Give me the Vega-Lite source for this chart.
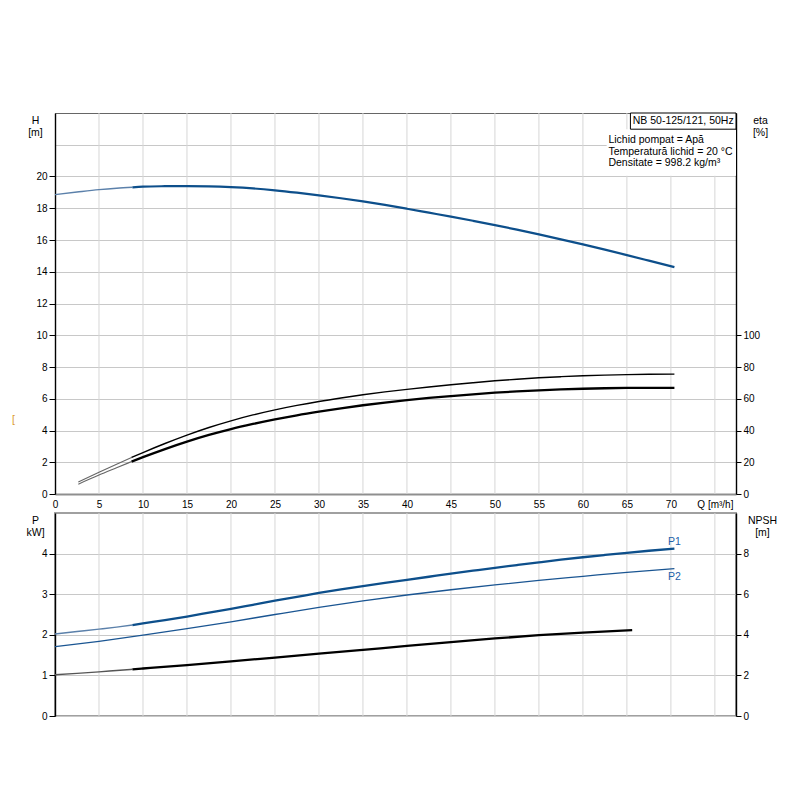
{
  "$schema": "https://vega.github.io/schema/vega-lite/v6.json",
  "background": "white",
  "padding": {"left": 11, "top": 112, "right": 5, "bottom": 5},
  "spacing": 19,
  "bounds": "flush",
  "config": {
    "font": "Liberation Sans",
    "axis": {
      "labelFont": "Liberation Sans",
      "labelFontSize": 10,
      "labelColor": "#000",
      "titleFont": "Liberation Sans",
      "titleFontSize": 10.5,
      "titleFontWeight": "normal",
      "titleColor": "#000",
      "labelFlush": false,
      "labelOverlap": false,
      "tickColor": "#000",
      "domainColor": "#000"
    }
  },
  "datasets": {
    "qgrid": [
      {"q": 5}, {"q": 10}, {"q": 15}, {"q": 20}, {"q": 25}, {"q": 30}, {"q": 35}, {"q": 40},
      {"q": 45}, {"q": 50}, {"q": 55}, {"q": 60}, {"q": 65}, {"q": 70}, {"q": 75}
    ],
    "top": [
      {"curve": "H", "part": "a", "q": 0, "v": 18.86},
      {"curve": "H", "part": "a", "q": 2.5, "v": 19.02},
      {"curve": "H", "part": "a", "q": 5, "v": 19.17},
      {"curve": "H", "part": "a", "q": 7, "v": 19.26},
      {"curve": "H", "part": "a", "q": 8.8, "v": 19.32},
      {"curve": "H", "part": "b", "q": 8.8, "v": 19.32},
      {"curve": "H", "part": "b", "q": 10, "v": 19.36},
      {"curve": "H", "part": "b", "q": 12.5, "v": 19.39},
      {"curve": "H", "part": "b", "q": 15, "v": 19.4},
      {"curve": "H", "part": "b", "q": 17.5, "v": 19.38},
      {"curve": "H", "part": "b", "q": 20, "v": 19.33},
      {"curve": "H", "part": "b", "q": 22.5, "v": 19.25},
      {"curve": "H", "part": "b", "q": 25, "v": 19.13},
      {"curve": "H", "part": "b", "q": 27.5, "v": 18.98},
      {"curve": "H", "part": "b", "q": 30, "v": 18.81},
      {"curve": "H", "part": "b", "q": 32.5, "v": 18.63},
      {"curve": "H", "part": "b", "q": 35, "v": 18.43},
      {"curve": "H", "part": "b", "q": 37.5, "v": 18.21},
      {"curve": "H", "part": "b", "q": 40, "v": 17.97},
      {"curve": "H", "part": "b", "q": 42.5, "v": 17.72},
      {"curve": "H", "part": "b", "q": 45, "v": 17.47},
      {"curve": "H", "part": "b", "q": 47.5, "v": 17.21},
      {"curve": "H", "part": "b", "q": 50, "v": 16.94},
      {"curve": "H", "part": "b", "q": 52.5, "v": 16.65},
      {"curve": "H", "part": "b", "q": 55, "v": 16.35},
      {"curve": "H", "part": "b", "q": 57.5, "v": 16.04},
      {"curve": "H", "part": "b", "q": 60, "v": 15.72},
      {"curve": "H", "part": "b", "q": 62.5, "v": 15.39},
      {"curve": "H", "part": "b", "q": 65, "v": 15.05},
      {"curve": "H", "part": "b", "q": 67.5, "v": 14.7},
      {"curve": "H", "part": "b", "q": 70.4, "v": 14.29},
      {"curve": "E1", "part": "a", "q": 2.65, "v": 7.5},
      {"curve": "E1", "part": "a", "q": 5, "v": 13.7},
      {"curve": "E1", "part": "a", "q": 7, "v": 18.8},
      {"curve": "E1", "part": "a", "q": 8.7, "v": 23.0},
      {"curve": "E1", "part": "b", "q": 8.7, "v": 23.0},
      {"curve": "E1", "part": "b", "q": 10, "v": 26.1},
      {"curve": "E1", "part": "b", "q": 12.5, "v": 31.8},
      {"curve": "E1", "part": "b", "q": 15, "v": 37.1},
      {"curve": "E1", "part": "b", "q": 17.5, "v": 41.9},
      {"curve": "E1", "part": "b", "q": 20, "v": 46.1},
      {"curve": "E1", "part": "b", "q": 22.5, "v": 49.8},
      {"curve": "E1", "part": "b", "q": 25, "v": 53.0},
      {"curve": "E1", "part": "b", "q": 27.5, "v": 55.8},
      {"curve": "E1", "part": "b", "q": 30, "v": 58.3},
      {"curve": "E1", "part": "b", "q": 32.5, "v": 60.5},
      {"curve": "E1", "part": "b", "q": 35, "v": 62.5},
      {"curve": "E1", "part": "b", "q": 37.5, "v": 64.3},
      {"curve": "E1", "part": "b", "q": 40, "v": 65.9},
      {"curve": "E1", "part": "b", "q": 42.5, "v": 67.4},
      {"curve": "E1", "part": "b", "q": 45, "v": 68.8},
      {"curve": "E1", "part": "b", "q": 47.5, "v": 70.1},
      {"curve": "E1", "part": "b", "q": 50, "v": 71.3},
      {"curve": "E1", "part": "b", "q": 52.5, "v": 72.3},
      {"curve": "E1", "part": "b", "q": 55, "v": 73.2},
      {"curve": "E1", "part": "b", "q": 57.5, "v": 73.9},
      {"curve": "E1", "part": "b", "q": 60, "v": 74.5},
      {"curve": "E1", "part": "b", "q": 62.5, "v": 74.9},
      {"curve": "E1", "part": "b", "q": 65, "v": 75.2},
      {"curve": "E1", "part": "b", "q": 67.5, "v": 75.4},
      {"curve": "E1", "part": "b", "q": 70.4, "v": 75.5},
      {"curve": "E2", "part": "a", "q": 2.65, "v": 6.2},
      {"curve": "E2", "part": "a", "q": 5, "v": 11.9},
      {"curve": "E2", "part": "a", "q": 7, "v": 16.5},
      {"curve": "E2", "part": "a", "q": 8.7, "v": 20.4},
      {"curve": "E2", "part": "b", "q": 8.7, "v": 20.4},
      {"curve": "E2", "part": "b", "q": 10, "v": 23.2},
      {"curve": "E2", "part": "b", "q": 12.5, "v": 28.3},
      {"curve": "E2", "part": "b", "q": 15, "v": 33.0},
      {"curve": "E2", "part": "b", "q": 17.5, "v": 37.2},
      {"curve": "E2", "part": "b", "q": 20, "v": 40.9},
      {"curve": "E2", "part": "b", "q": 22.5, "v": 44.1},
      {"curve": "E2", "part": "b", "q": 25, "v": 47.0},
      {"curve": "E2", "part": "b", "q": 27.5, "v": 49.6},
      {"curve": "E2", "part": "b", "q": 30, "v": 51.9},
      {"curve": "E2", "part": "b", "q": 32.5, "v": 54.0},
      {"curve": "E2", "part": "b", "q": 35, "v": 55.9},
      {"curve": "E2", "part": "b", "q": 37.5, "v": 57.6},
      {"curve": "E2", "part": "b", "q": 40, "v": 59.1},
      {"curve": "E2", "part": "b", "q": 42.5, "v": 60.5},
      {"curve": "E2", "part": "b", "q": 45, "v": 61.7},
      {"curve": "E2", "part": "b", "q": 47.5, "v": 62.8},
      {"curve": "E2", "part": "b", "q": 50, "v": 63.8},
      {"curve": "E2", "part": "b", "q": 52.5, "v": 64.6},
      {"curve": "E2", "part": "b", "q": 55, "v": 65.3},
      {"curve": "E2", "part": "b", "q": 57.5, "v": 65.9},
      {"curve": "E2", "part": "b", "q": 60, "v": 66.3},
      {"curve": "E2", "part": "b", "q": 62.5, "v": 66.6},
      {"curve": "E2", "part": "b", "q": 65, "v": 66.8},
      {"curve": "E2", "part": "b", "q": 67.5, "v": 66.9},
      {"curve": "E2", "part": "b", "q": 70.4, "v": 66.9}
    ],
    "note": [
      {"kind": "bg", "q": 62.7, "q2": 77.4, "v": 20.05, "v2": 22.98},
      {"kind": "box", "q": 65.4, "q2": 77.4, "v": 22.98, "v2": 24},
      {"kind": "name", "q": 71.4, "v": 23.49, "txt": "NB 50-125/121, 50Hz"},
      {"kind": "info", "q": 62.9, "v": 22.31, "txt": "Lichid pompat = Apă"},
      {"kind": "info", "q": 62.9, "v": 21.55, "txt": "Temperatură lichid = 20 °C"},
      {"kind": "info", "q": 62.9, "v": 20.82, "txt": "Densitate = 998.2 kg/m³"},
      {"kind": "stray", "q": -4.9, "v": 4.66, "txt": "["}
    ],
    "bot": [
      {"curve": "P1", "part": "a", "q": 0, "v": 2.02},
      {"curve": "P1", "part": "a", "q": 2.5, "v": 2.08},
      {"curve": "P1", "part": "a", "q": 5, "v": 2.14},
      {"curve": "P1", "part": "a", "q": 7, "v": 2.19},
      {"curve": "P1", "part": "a", "q": 8.8, "v": 2.24},
      {"curve": "P1", "part": "b", "q": 8.8, "v": 2.24},
      {"curve": "P1", "part": "b", "q": 10, "v": 2.28},
      {"curve": "P1", "part": "b", "q": 12.5, "v": 2.36},
      {"curve": "P1", "part": "b", "q": 15, "v": 2.45},
      {"curve": "P1", "part": "b", "q": 17.5, "v": 2.545},
      {"curve": "P1", "part": "b", "q": 20, "v": 2.64},
      {"curve": "P1", "part": "b", "q": 22.5, "v": 2.74},
      {"curve": "P1", "part": "b", "q": 25, "v": 2.84},
      {"curve": "P1", "part": "b", "q": 27.5, "v": 2.935},
      {"curve": "P1", "part": "b", "q": 30, "v": 3.03},
      {"curve": "P1", "part": "b", "q": 32.5, "v": 3.117},
      {"curve": "P1", "part": "b", "q": 35, "v": 3.2},
      {"curve": "P1", "part": "b", "q": 37.5, "v": 3.28},
      {"curve": "P1", "part": "b", "q": 40, "v": 3.355},
      {"curve": "P1", "part": "b", "q": 42.5, "v": 3.43},
      {"curve": "P1", "part": "b", "q": 45, "v": 3.505},
      {"curve": "P1", "part": "b", "q": 47.5, "v": 3.578},
      {"curve": "P1", "part": "b", "q": 50, "v": 3.65},
      {"curve": "P1", "part": "b", "q": 52.5, "v": 3.718},
      {"curve": "P1", "part": "b", "q": 55, "v": 3.785},
      {"curve": "P1", "part": "b", "q": 57.5, "v": 3.85},
      {"curve": "P1", "part": "b", "q": 60, "v": 3.91},
      {"curve": "P1", "part": "b", "q": 62.5, "v": 3.966},
      {"curve": "P1", "part": "b", "q": 65, "v": 4.02},
      {"curve": "P1", "part": "b", "q": 67.5, "v": 4.07},
      {"curve": "P1", "part": "b", "q": 70.4, "v": 4.125},
      {"curve": "P2", "part": "b", "q": 0, "v": 1.71},
      {"curve": "P2", "part": "b", "q": 5, "v": 1.84},
      {"curve": "P2", "part": "b", "q": 10, "v": 1.99},
      {"curve": "P2", "part": "b", "q": 15, "v": 2.15},
      {"curve": "P2", "part": "b", "q": 20, "v": 2.32},
      {"curve": "P2", "part": "b", "q": 25, "v": 2.5},
      {"curve": "P2", "part": "b", "q": 30, "v": 2.675},
      {"curve": "P2", "part": "b", "q": 35, "v": 2.835},
      {"curve": "P2", "part": "b", "q": 40, "v": 2.98},
      {"curve": "P2", "part": "b", "q": 45, "v": 3.11},
      {"curve": "P2", "part": "b", "q": 50, "v": 3.23},
      {"curve": "P2", "part": "b", "q": 55, "v": 3.34},
      {"curve": "P2", "part": "b", "q": 60, "v": 3.44},
      {"curve": "P2", "part": "b", "q": 65, "v": 3.54},
      {"curve": "P2", "part": "b", "q": 70.4, "v": 3.63},
      {"curve": "NPSH", "part": "a", "q": 0, "v": 2.03},
      {"curve": "NPSH", "part": "a", "q": 2.5, "v": 2.1},
      {"curve": "NPSH", "part": "a", "q": 5, "v": 2.175},
      {"curve": "NPSH", "part": "a", "q": 7, "v": 2.24},
      {"curve": "NPSH", "part": "a", "q": 8.8, "v": 2.3},
      {"curve": "NPSH", "part": "b", "q": 8.8, "v": 2.3},
      {"curve": "NPSH", "part": "b", "q": 10, "v": 2.34},
      {"curve": "NPSH", "part": "b", "q": 15, "v": 2.51},
      {"curve": "NPSH", "part": "b", "q": 20, "v": 2.69},
      {"curve": "NPSH", "part": "b", "q": 25, "v": 2.88},
      {"curve": "NPSH", "part": "b", "q": 30, "v": 3.07},
      {"curve": "NPSH", "part": "b", "q": 35, "v": 3.26},
      {"curve": "NPSH", "part": "b", "q": 40, "v": 3.45},
      {"curve": "NPSH", "part": "b", "q": 45, "v": 3.64},
      {"curve": "NPSH", "part": "b", "q": 50, "v": 3.82},
      {"curve": "NPSH", "part": "b", "q": 55, "v": 3.98},
      {"curve": "NPSH", "part": "b", "q": 60, "v": 4.11},
      {"curve": "NPSH", "part": "b", "q": 65.6, "v": 4.23}
    ]
  },
  "vconcat": [
    {
      "width": 681,
      "height": 381,
      "view": {"stroke": "#666", "strokeWidth": 1},
      "layer": [
        {
          "data": {"name": "qgrid"},
          "mark": {"type": "rule", "color": "#d6d6d6", "strokeWidth": 1},
          "encoding": {
            "x": {
              "field": "q", "type": "quantitative",
              "scale": {"domain": [0, 77.4], "nice": false, "zero": false},
              "axis": null
            }
          }
        },
        {
          "encoding": {
            "x": {
              "field": "q", "type": "quantitative",
              "scale": {"domain": [0, 77.4], "nice": false, "zero": false},
              "axis": {
                "orient": "bottom", "title": null,
                "values": [0, 5, 10, 15, 20, 25, 30, 35, 40, 45, 50, 55, 60, 65, 70, 75],
                "labelExpr": "datum.value == 75 ? 'Q [m³/h]' : datum.label",
                "ticks": false, "labelPadding": 5,
                "domainColor": "#8f8f8f", "domainWidth": 2.2,
                "grid": false
              }
            },
            "y": {
              "field": "v", "type": "quantitative",
              "scale": {"domain": [0, 24], "nice": false},
              "axis": {
                "orient": "left",
                "values": [0, 2, 4, 6, 8, 10, 12, 14, 16, 18, 20, 22],
                "labelExpr": "datum.value > 20 ? '' : datum.label",
                "tickOpacity": {"condition": {"test": "datum.value > 20", "value": 0}, "value": 1},
                "tickSize": 6, "labelPadding": 2, "domainWidth": 1.4,
                "grid": true, "gridColor": "#c8c8c8",
                "title": ["H", "[m]"], "titleAngle": 0, "titleAlign": "center",
                "titleBaseline": "top", "titleX": -20, "titleY": 2, "titleLineHeight": 12.5
              }
            }
          },
          "layer": [
            {
              "data": {"name": "top"},
              "transform": [{"filter": "datum.curve == 'H' && datum.part == 'a'"}],
              "mark": {"type": "line", "color": "#5b80aa", "strokeWidth": 1.4, "interpolate": "monotone"}
            },
            {
              "data": {"name": "top"},
              "transform": [{"filter": "datum.curve == 'H' && datum.part == 'b'"}],
              "mark": {"type": "line", "color": "#0d4f8b", "strokeWidth": 2.2, "interpolate": "monotone"}
            },
            {
              "data": {"name": "note"},
              "transform": [{"filter": "datum.kind == 'bg'"}],
              "mark": {"type": "rect", "fill": "white", "stroke": null},
              "encoding": {"x2": {"field": "q2"}, "y2": {"field": "v2"}}
            },
            {
              "data": {"name": "note"},
              "transform": [{"filter": "datum.kind == 'box'"}],
              "mark": {"type": "rect", "fill": "white", "stroke": "#000", "strokeWidth": 1},
              "encoding": {"x2": {"field": "q2"}, "y2": {"field": "v2"}}
            },
            {
              "data": {"name": "note"},
              "transform": [{"filter": "datum.kind == 'name'"}],
              "mark": {"type": "text", "align": "center", "baseline": "middle", "fontSize": 10.5, "color": "#000"},
              "encoding": {"text": {"field": "txt"}}
            },
            {
              "data": {"name": "note"},
              "transform": [{"filter": "datum.kind == 'info'"}],
              "mark": {"type": "text", "align": "left", "baseline": "middle", "fontSize": 10.5, "color": "#000"},
              "encoding": {"text": {"field": "txt"}}
            },
            {
              "data": {"name": "note"},
              "transform": [{"filter": "datum.kind == 'stray'"}],
              "mark": {"type": "text", "align": "left", "baseline": "middle", "fontSize": 10.5, "color": "#d9962b"},
              "encoding": {"text": {"field": "txt"}}
            }
          ]
        },
        {
          "data": {"name": "top"},
          "encoding": {
            "x": {
              "field": "q", "type": "quantitative",
              "scale": {"domain": [0, 77.4], "nice": false, "zero": false},
              "axis": null
            },
            "y": {
              "field": "v", "type": "quantitative",
              "scale": {"domain": [0, 240], "nice": false},
              "axis": {
                "orient": "right", "values": [0, 20, 40, 60, 80, 100], "grid": false,
                "tickSize": 5, "labelPadding": 2, "domainWidth": 1.4,
                "title": ["eta", "[%]"], "titleAngle": 0, "titleAlign": "center",
                "titleBaseline": "top", "titleX": 24, "titleY": 2, "titleLineHeight": 12.5
              }
            }
          },
          "layer": [
            {
              "transform": [{"filter": "datum.curve != 'H' && datum.part == 'a'"}],
              "mark": {"type": "line", "color": "#666", "strokeWidth": 1.1, "interpolate": "monotone"},
              "encoding": {"detail": {"field": "curve"}}
            },
            {
              "transform": [{"filter": "datum.curve == 'E1' && datum.part == 'b'"}],
              "mark": {"type": "line", "color": "#000", "strokeWidth": 1.4, "interpolate": "monotone"}
            },
            {
              "transform": [{"filter": "datum.curve == 'E2' && datum.part == 'b'"}],
              "mark": {"type": "line", "color": "#000", "strokeWidth": 2.3, "interpolate": "monotone"}
            }
          ]
        }
      ],
      "resolve": {"scale": {"y": "independent"}, "axis": {"x": "independent"}}
    },
    {
      "width": 681,
      "height": 203,
      "view": {"stroke": "#a0a0a0", "strokeWidth": 2},
      "layer": [
        {
          "data": {"name": "qgrid"},
          "mark": {"type": "rule", "color": "#d6d6d6", "strokeWidth": 1},
          "encoding": {
            "x": {
              "field": "q", "type": "quantitative",
              "scale": {"domain": [0, 77.4], "nice": false, "zero": false},
              "axis": null
            }
          }
        },
        {
          "data": {"name": "bot"},
          "encoding": {
            "x": {
              "field": "q", "type": "quantitative",
              "scale": {"domain": [0, 77.4], "nice": false, "zero": false},
              "axis": {
                "orient": "bottom", "title": null,
                "values": [0, 5, 10, 15, 20, 25, 30, 35, 40, 45, 50, 55, 60, 65, 70, 75],
                "labels": false, "ticks": false, "domain": false, "grid": false
              }
            },
            "y": {
              "field": "v", "type": "quantitative",
              "scale": {"domain": [0, 5], "nice": false},
              "axis": {
                "orient": "left", "values": [0, 1, 2, 3, 4],
                "tickSize": 6, "labelPadding": 2, "domainWidth": 1.4,
                "grid": true, "gridColor": "#c8c8c8",
                "title": ["P", "kW]"], "titleAngle": 0, "titleAlign": "center",
                "titleBaseline": "top", "titleX": -20, "titleY": 2, "titleLineHeight": 12.5
              }
            }
          },
          "layer": [
            {
              "transform": [{"filter": "datum.curve == 'P1' && datum.part == 'a'"}],
              "mark": {"type": "line", "color": "#5b80aa", "strokeWidth": 1.4, "interpolate": "monotone"}
            },
            {
              "transform": [{"filter": "datum.curve == 'P1' && datum.part == 'b'"}],
              "mark": {"type": "line", "color": "#0d4f8b", "strokeWidth": 2.3, "interpolate": "monotone"}
            },
            {
              "transform": [{"filter": "datum.curve == 'P2'"}],
              "mark": {"type": "line", "color": "#1a5592", "strokeWidth": 1.3, "interpolate": "monotone"}
            },
            {
              "transform": [{"filter": "datum.curve == 'P1' && datum.part == 'b' && datum.q == 70.4"}],
              "mark": {"type": "text", "align": "center", "baseline": "middle", "dy": -7, "fontSize": 10.5, "color": "#2260a8"},
              "encoding": {"text": {"field": "curve"}}
            },
            {
              "transform": [{"filter": "datum.curve == 'P2' && datum.q == 70.4"}],
              "mark": {"type": "text", "align": "center", "baseline": "middle", "dy": 8, "fontSize": 10.5, "color": "#2260a8"},
              "encoding": {"text": {"field": "curve"}}
            }
          ]
        },
        {
          "data": {"name": "bot"},
          "encoding": {
            "x": {
              "field": "q", "type": "quantitative",
              "scale": {"domain": [0, 77.4], "nice": false, "zero": false},
              "axis": null
            },
            "y": {
              "field": "v", "type": "quantitative",
              "scale": {"domain": [0, 10], "nice": false},
              "axis": {
                "orient": "right", "values": [0, 2, 4, 6, 8], "grid": false,
                "tickSize": 5, "labelPadding": 2, "domainWidth": 1.4,
                "title": ["NPSH", "[m]"], "titleAngle": 0, "titleAlign": "center",
                "titleBaseline": "top", "titleX": 26, "titleY": 2, "titleLineHeight": 12.5
              }
            }
          },
          "layer": [
            {
              "transform": [{"filter": "datum.curve == 'NPSH' && datum.part == 'a'"}],
              "mark": {"type": "line", "color": "#555", "strokeWidth": 1.4, "interpolate": "monotone"}
            },
            {
              "transform": [{"filter": "datum.curve == 'NPSH' && datum.part == 'b'"}],
              "mark": {"type": "line", "color": "#000", "strokeWidth": 2.3, "interpolate": "monotone"}
            }
          ]
        }
      ],
      "resolve": {"scale": {"y": "independent"}, "axis": {"x": "independent"}}
    }
  ]
}
